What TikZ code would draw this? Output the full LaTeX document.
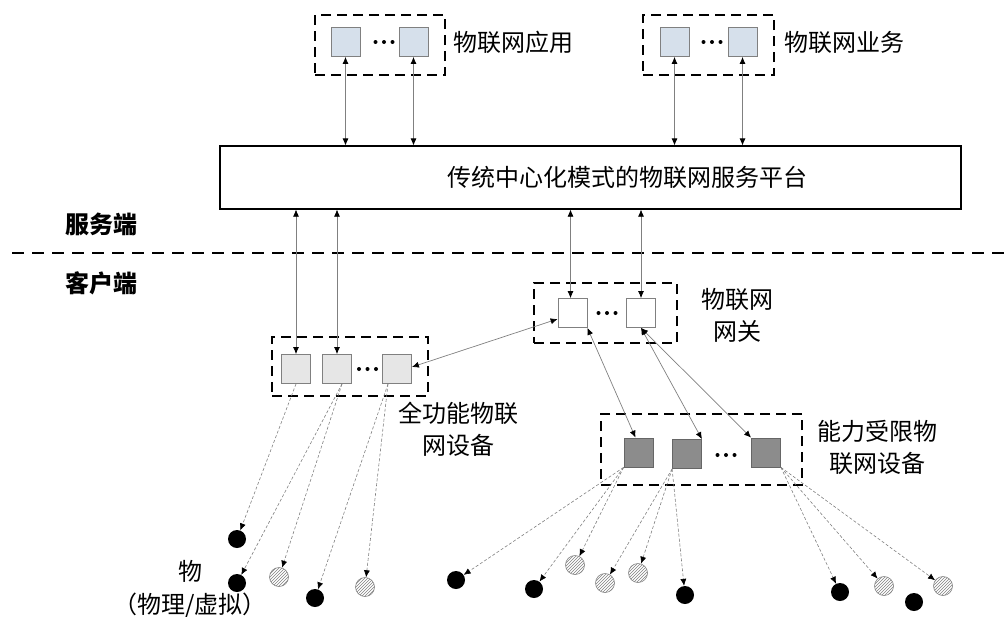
\documentclass[tikz,border=0pt]{standalone}
\usepackage{fontspec}
\setmainfont{Noto Sans CJK SC}
\usetikzlibrary{arrows.meta,patterns}
\definecolor{appblue}{RGB}{214,224,235}
\definecolor{fullgray}{RGB}{230,230,230}
\definecolor{ltdgray}{RGB}{140,140,140}
\newcommand\tridots[1]{\foreach \dx in {-8.5,0,8.5} \fill ([xshift=\dx pt]#1) circle (2pt);}
\begin{document}
\begin{tikzpicture}[x=1pt, y=-1pt,
  >={Latex[length=7pt,width=6pt,color=black]},
  every node/.style={font=\fontsize{24}{32}\selectfont},
  grp/.style={draw, line width=1.5pt, dash pattern=on 10pt off 6pt, inner sep=0pt},
  sq/.style={draw=gray, line width=0.8pt, minimum size=29pt, inner sep=0pt},
  conn/.style={<->, draw=gray, line width=0.7pt},
  wire/.style={->, draw=gray, line width=0.6pt, dash pattern=on 3pt off 2pt},
  thing/.style={circle, fill=black, minimum size=18pt, inner sep=0pt},
  virt/.style={circle, draw=gray, line width=0.6pt, pattern=north east lines, pattern color=gray, minimum size=19pt, inner sep=0pt}]
\useasboundingbox (0,0) rectangle (1008,616);

% top: applications and services
\node[grp, minimum width=130pt, minimum height=60pt] (appbox) at (380,45) {};
\node[sq, fill=appblue] (a1) at (345.5,42) {};
\node[sq, fill=appblue] (a2) at (413.5,42) {};
\coordinate (adots) at (384,42); \tridots{adots}
\node (applbl) at (513,42) {物联网应用};

\node[grp, minimum width=131pt, minimum height=60pt] (svcbox) at (708.5,45) {};
\node[sq, fill=appblue] (b1) at (674.5,42) {};
\node[sq, fill=appblue] (b2) at (742.5,42) {};
\coordinate (bdots) at (712,42); \tridots{bdots}
\node (svclbl) at (844.5,42) {物联网业务};

% platform
\node[draw, line width=1.2pt, minimum width=741pt, minimum height=63pt] (plat) at (590.5,177.5) {};
\node (platlbl) at (627,177) {传统中心化模式的物联网服务平台};

\node[font=\fontsize{24}{32}\selectfont\bfseries] (srv) at (101,224) {服务端};
\node[font=\fontsize{24}{32}\selectfont\bfseries] (cli) at (101,283) {客户端};
\coordinate (divl) at (12,253);
\coordinate (divr) at (1008,253);
\draw[line width=1.4pt, dash pattern=on 12pt off 8pt] (divl) -- (divr);

% full-function devices
\node[grp, minimum width=156pt, minimum height=59pt] (ffbox) at (350,366.5) {};
\node[sq, fill=fullgray] (f1) at (296,369) {};
\node[sq, fill=fullgray] (f2) at (337,369) {};
\node[sq, fill=fullgray] (f3) at (397,369) {};
\coordinate (fdots) at (367.5,369); \tridots{fdots}
\node[align=center] (fflbl) at (458,429) {全功能物联\\网设备};

% gateway
\node[grp, minimum width=143pt, minimum height=60pt] (gwbox) at (605.5,313) {};
\node[sq, fill=white] (g1) at (572.5,313) {};
\node[sq, fill=white] (g2) at (641,313) {};
\coordinate (gdots) at (607,313); \tridots{gdots}
\node[align=center] (gwlbl) at (737,315) {物联网\\网关};

% constrained devices
\node[grp, minimum width=201pt, minimum height=71pt] (ltdbox) at (701.5,449.5) {};
\node[sq, fill=ltdgray, draw=black!60] (d1) at (638.5,452.5) {};
\node[sq, fill=ltdgray, draw=black!60] (d2) at (687,454) {};
\node[sq, fill=ltdgray, draw=black!60] (d3) at (766,452.5) {};
\coordinate (ddots) at (726,455); \tridots{ddots}
\node[align=center] (ltdlbl) at (877,447) {能力受限物\\联网设备};

% links
\draw[conn] (a1.south) -- (a1.south |- plat.north);
\draw[conn] (a2.south) -- (a2.south |- plat.north);
\draw[conn] (b1.south) -- (b1.south |- plat.north);
\draw[conn] (b2.south) -- (b2.south |- plat.north);
\draw[conn] (f1.north) -- (f1.north |- plat.south);
\draw[conn] (f2.north) -- (f2.north |- plat.south);
\draw[conn] ([xshift=-2pt]g1.north) -- ([xshift=-2pt]g1.north |- plat.south);
\draw[conn] (g2.north) -- (g2.north |- plat.south);
\draw[conn] ([yshift=-6pt]g1.west) -- ([yshift=2pt]f3.east);
\draw[conn] (g1.south east) -- ([xshift=-3pt]d1.north);
\draw[conn] (g2.south) -- (d2.north east);
\draw[conn] (g2.south) -- (d3.north west);

% things
\node[thing] (c1) at (237,539) {};
\node[thing] (c2) at (237,583) {};
\node[virt] (h1) at (279,577) {};
\node[thing] (c3) at (315,598) {};
\node[virt] (h2) at (365,587) {};
\node[thing] (c4) at (456,580) {};
\node[thing] (c5) at (534,589) {};
\node[virt] (h3) at (575,565) {};
\node[virt] (h4) at (605,583) {};
\node[virt] (h5) at (638,573) {};
\node[thing] (c6) at (685,595) {};
\node[thing] (c7) at (840,592) {};
\node[virt] (h6) at (884,586) {};
\node[thing] (c8) at (914,602) {};
\node[virt] (h7) at (943,586) {};
\node[align=center] (thlbl) at (190,589) {物\\[1pt]（物理/虚拟）};

\draw[wire] (f1.south) -- (c1);
\draw[wire] ([xshift=5pt]f2.south) -- (c2);
\draw[wire] ([xshift=5pt]f2.south) -- (h1);
\draw[wire] ([xshift=-9pt]f3.south) -- (c3);
\draw[wire] ([xshift=-9pt]f3.south) -- (h2);
\draw[wire] (d1.south west) -- (c4);
\draw[wire] (d1.south west) -- (c5);
\draw[wire] (d1.south west) -- (h3);
\draw[wire] (d2.south west) -- (h4);
\draw[wire] (d2.south west) -- (h5);
\draw[wire] (d2.south west) -- (c6);
\draw[wire] (d3.south east) -- (c7);
\draw[wire] (d3.south east) -- (h6);
\draw[wire] (d3.south east) -- (h7);
\end{tikzpicture}
\end{document}
